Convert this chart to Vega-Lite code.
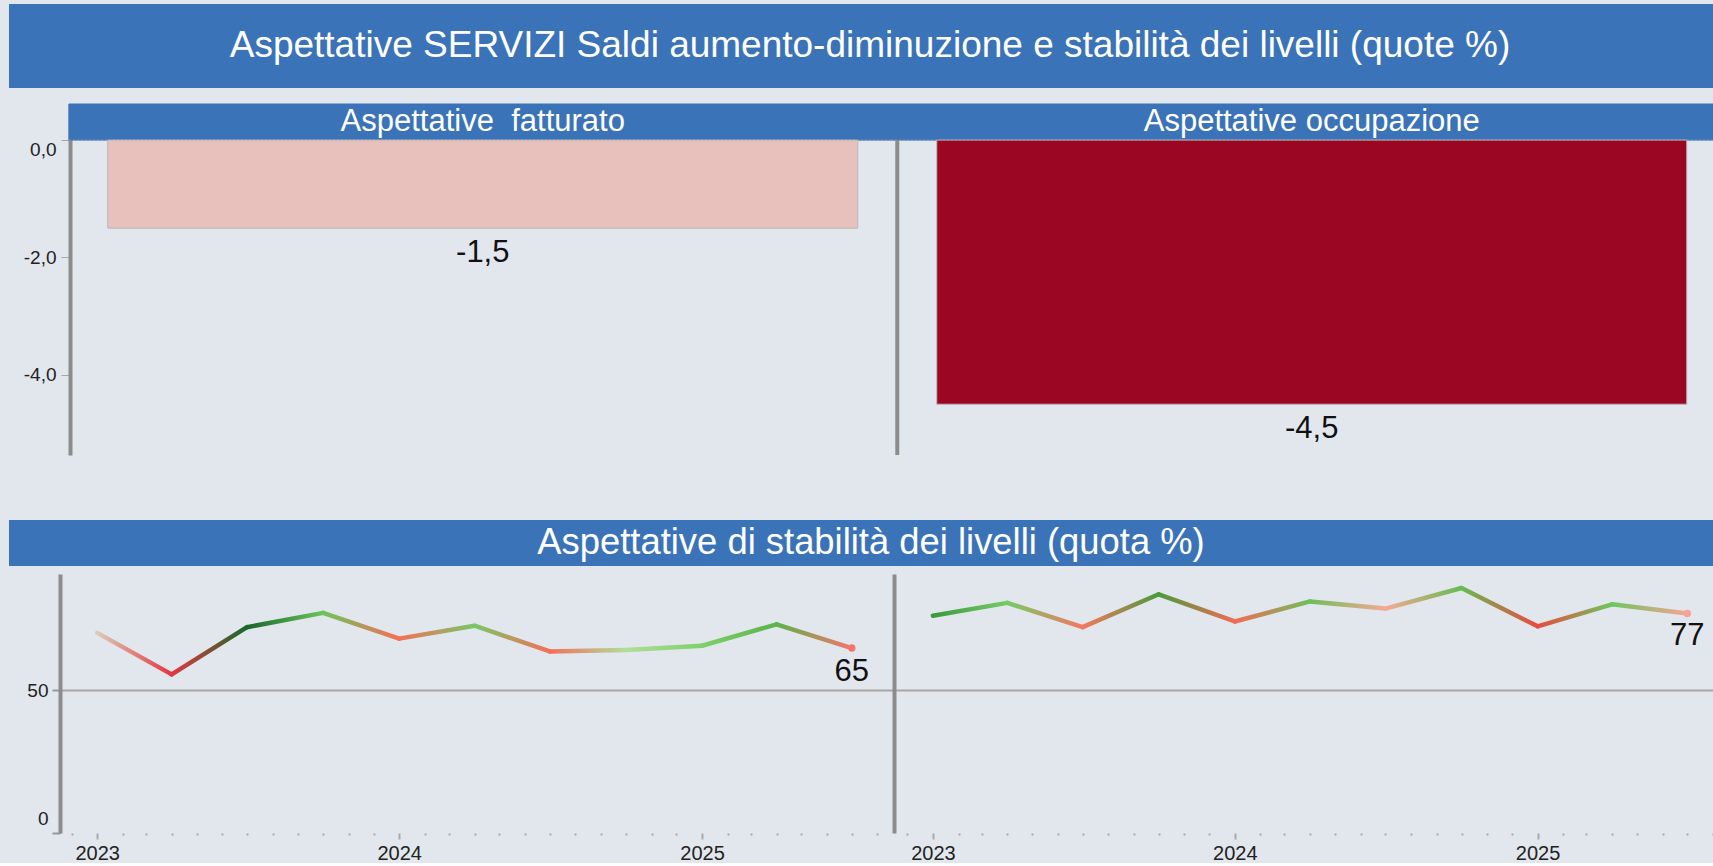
{
  "$schema": "https://vega.github.io/schema/vega-lite/v6.json",
  "background": "#e2e7ee",
  "padding": {"left": 9, "top": 4, "right": 0, "bottom": 0},
  "config": {
    "view": {"stroke": null},
    "font": "Liberation Sans",
    "locale": {"number": {"decimal": ",", "thousands": ".", "grouping": [3], "currency": ["", " €"], "minus": "-"}}
  },
  "datasets": {
    "stab": [
      {"panel": "L", "id": "L0", "date": "2023-01-01", "v": 70},
      {"panel": "L", "id": "L1", "date": "2023-04-01", "v": 55.5},
      {"panel": "L", "id": "L2", "date": "2023-07-01", "v": 72},
      {"panel": "L", "id": "L3", "date": "2023-10-01", "v": 77},
      {"panel": "L", "id": "L4", "date": "2024-01-01", "v": 68},
      {"panel": "L", "id": "L5", "date": "2024-04-01", "v": 72.5},
      {"panel": "L", "id": "L6", "date": "2024-07-01", "v": 63.5},
      {"panel": "L", "id": "L7", "date": "2024-10-01", "v": 64},
      {"panel": "L", "id": "L8", "date": "2025-01-01", "v": 65.5},
      {"panel": "L", "id": "L9", "date": "2025-04-01", "v": 73},
      {"panel": "L", "id": "L10", "date": "2025-07-01", "v": 64.7},
      {"panel": "R", "id": "R0", "date": "2023-01-01", "v": 76},
      {"panel": "R", "id": "R1", "date": "2023-04-01", "v": 80.5},
      {"panel": "R", "id": "R2", "date": "2023-07-01", "v": 72},
      {"panel": "R", "id": "R3", "date": "2023-10-01", "v": 83.5},
      {"panel": "R", "id": "R4", "date": "2024-01-01", "v": 74},
      {"panel": "R", "id": "R5", "date": "2024-04-01", "v": 81},
      {"panel": "R", "id": "R6", "date": "2024-07-01", "v": 78.5},
      {"panel": "R", "id": "R7", "date": "2024-10-01", "v": 85.7},
      {"panel": "R", "id": "R8", "date": "2025-01-01", "v": 72.3},
      {"panel": "R", "id": "R9", "date": "2025-04-01", "v": 80},
      {"panel": "R", "id": "R10", "date": "2025-07-01", "v": 76.8}
    ]
  },
  "spacing": 0,
  "bounds": "flush",
  "vconcat": [
    {
      "width": 1704, "height": 84,
      "view": {"fill": "#3b73b9", "stroke": null},
      "data": {"values": [{"t": "Aspettative SERVIZI Saldi aumento-diminuzione e stabilità dei livelli (quote %)"}]},
      "mark": {"type": "text", "fontSize": 37, "color": "#ffffff", "dx": 9},
      "encoding": {"text": {"field": "t"}}
    },
    {"width": 1704, "height": 16, "data": {"values": []}, "mark": "rect"},
    {
      "width": 1704, "height": 351,
      "data": {"values": [
        {"k": "fatturato", "h": "Aspettative \u00a0fatturato", "v": -1.5},
        {"k": "occupazione", "h": "Aspettative occupazione", "v": -4.5}
      ]},
      "resolve": {"scale": {"x": "independent"}},
      "layer": [
        {
          "mark": {"type": "rect", "color": "#3b73b9", "stroke": "#3b73b9", "strokeWidth": 1},
          "encoding": {
            "x": {"field": "k", "type": "nominal", "axis": null, "scale": {"type": "band", "paddingInner": 0, "paddingOuter": 0.036496, "align": 1}},
            "y": {"datum": 0, "type": "quantitative", "scale": {"domain": [-5.365, 0.615], "nice": false},
              "axis": {"values": [0, -2, -4], "format": ",.1f", "title": null, "grid": false, "offset": -61,
                "domainColor": "#8c8c8c", "domainWidth": 4, "tickColor": "#a8a8a8", "tickSize": 9, "tickWidth": 1,
                "labelFontSize": 19, "labelColor": "#222222", "labelPadding": 5, "labelFlush": false,
                "labelBaseline": {"condition": {"test": "datum.value === 0", "value": "top"}, "value": "middle"}}},
            "y2": {"datum": 0.615}
          }
        },
        {
          "mark": {"type": "rule", "strokeDash": [2, 2], "color": "#9aa0a8", "strokeWidth": 1},
          "encoding": {
            "x": {"field": "k", "type": "nominal", "axis": null, "bandPosition": 0, "scale": {"type": "band", "paddingInner": 0, "paddingOuter": 0.036496, "align": 1}},
            "x2": {"field": "k", "bandPosition": 1},
            "y": {"datum": 0, "type": "quantitative"}
          }
        },
        {
          "mark": {"type": "bar", "stroke": "#b8b8b8", "strokeWidth": 1},
          "encoding": {
            "x": {"field": "k", "type": "nominal", "axis": null, "scale": {"type": "band", "paddingInner": 0.0953, "paddingOuter": 0.0754, "align": 0.79}},
            "y": {"field": "v", "type": "quantitative"},
            "fill": {"field": "k", "type": "nominal", "legend": null, "scale": {"domain": ["fatturato", "occupazione"], "range": ["#e8c0bc", "#9b0623"]}}
          }
        },
        {
          "transform": [{"filter": "datum.k === 'fatturato'"}],
          "mark": {"type": "rule", "color": "#8c8c8c", "strokeWidth": 4},
          "encoding": {
            "x": {"field": "k", "type": "nominal", "axis": null, "bandPosition": 1.0527, "scale": {"type": "band", "domain": ["fatturato", "occupazione"], "paddingInner": 0.0953, "paddingOuter": 0.0754, "align": 0.79}},
            "y": {"datum": 0, "type": "quantitative"},
            "y2": {"datum": -5.365}
          }
        },
        {
          "mark": {"type": "text", "fontSize": 31, "dy": 24.5, "color": "#111111"},
          "encoding": {
            "x": {"field": "k", "type": "nominal", "axis": null, "scale": {"type": "band", "paddingInner": 0.0953, "paddingOuter": 0.0754, "align": 0.79}},
            "y": {"field": "v", "type": "quantitative"},
            "text": {"field": "v", "type": "quantitative", "format": ",.1f"}
          }
        },
        {
          "mark": {"type": "text", "fontSize": 31, "color": "#ffffff"},
          "encoding": {
            "x": {"field": "k", "type": "nominal", "axis": null, "scale": {"type": "band", "paddingInner": 0.0953, "paddingOuter": 0.0754, "align": 0.79}},
            "y": {"datum": 0.3077, "type": "quantitative"},
            "text": {"field": "h"}
          }
        }
      ]
    },
    {"width": 1704, "height": 65, "data": {"values": []}, "mark": "rect"},
    {
      "width": 1704, "height": 46,
      "view": {"fill": "#3b73b9", "stroke": null},
      "data": {"values": [{"t": "Aspettative di stabilità dei livelli (quota %)"}]},
      "mark": {"type": "text", "fontSize": 36.4, "color": "#ffffff", "dx": 10},
      "encoding": {"text": {"field": "t"}}
    },
    {"width": 1704, "height": 8, "data": {"values": []}, "mark": "rect"},
    {
      "spacing": 0, "bounds": "flush",
      "hconcat": [
        {"width": 51, "height": 1, "data": {"values": []}, "mark": "rect"},
        {
          "width": 834, "height": 259,
          "data": {"name": "stab"},
          "transform": [
            {"filter": "datum.panel === 'L'"},
            {"window": [{"op": "lag", "field": "v", "as": "pv"}, {"op": "lag", "field": "date", "as": "pd"}], "sort": [{"field": "date"}]}
          ],
          "layer": [
            {
              "transform": [{"filter": "datum.pv != null"}],
              "mark": {"type": "rule", "strokeWidth": 4.5, "strokeCap": "round"},
              "encoding": {
                "x": {"field": "pd", "type": "temporal",
                  "scale": {"type": "utc", "domain": [{"year": 2022, "month": 11, "date": 17, "utc": true}, {"year": 2025, "month": 8, "date": 21, "utc": true}]},
                  "axis": {"title": null, "domain": false, "grid": false, "tickCount": {"interval": "month", "step": 1},
                    "labelExpr": "utcmonth(datum.value) === 0 ? utcFormat(datum.value, '%Y') : ''",
                    "tickColor": "#aaaaaa", "tickSize": 6, "tickWidth": 2,
                    "tickDash": {"condition": {"test": "utcmonth(datum.value) === 0", "value": [6, 0]}, "value": [2, 20]},
                    "labelFontSize": 20, "labelColor": "#222222", "labelFlush": false, "labelOverlap": false, "labelPadding": 4}},
                "x2": {"field": "date"},
                "y": {"field": "pv", "type": "quantitative", "scale": {"domain": [0, 90.6], "nice": false},
                  "axis": {"values": [0, 50], "title": null, "grid": true, "gridColor": "#a6a6a6", "gridWidth": 2,
                    "gridOpacity": {"condition": {"test": "datum.value === 0", "value": 0}, "value": 1},
                    "domainColor": "#8c8c8c", "domainWidth": 4, "tickColor": "#999999", "tickSize": 8, "tickWidth": 2,
                    "labelFontSize": 19, "labelColor": "#222222", "labelPadding": 4, "labelFlush": true, "labelFlushOffset": -5}},
                "y2": {"field": "v"},
                "stroke": {
                  "condition": [
                    {"test": "datum.id === 'L1'", "value": {"gradient": "linear", "x1": 0, "y1": 0, "x2": 1, "y2": 0, "stops": [{"offset": 0, "color": "#dccab8"}, {"offset": 1, "color": "#e6363f"}]}},
                    {"test": "datum.id === 'L2'", "value": {"gradient": "linear", "x1": 0, "y1": 0, "x2": 1, "y2": 0, "stops": [{"offset": 0, "color": "#e6363f"}, {"offset": 1, "color": "#17692a"}]}},
                    {"test": "datum.id === 'L3'", "value": {"gradient": "linear", "x1": 0, "y1": 0, "x2": 1, "y2": 0, "stops": [{"offset": 0, "color": "#17692a"}, {"offset": 1, "color": "#6cc45a"}]}},
                    {"test": "datum.id === 'L4'", "value": {"gradient": "linear", "x1": 0, "y1": 0, "x2": 1, "y2": 0, "stops": [{"offset": 0, "color": "#6cc45a"}, {"offset": 1, "color": "#f66f55"}]}},
                    {"test": "datum.id === 'L5'", "value": {"gradient": "linear", "x1": 0, "y1": 0, "x2": 1, "y2": 0, "stops": [{"offset": 0, "color": "#f66f55"}, {"offset": 1, "color": "#78c865"}]}},
                    {"test": "datum.id === 'L6'", "value": {"gradient": "linear", "x1": 0, "y1": 0, "x2": 1, "y2": 0, "stops": [{"offset": 0, "color": "#78c865"}, {"offset": 1, "color": "#f56e58"}]}},
                    {"test": "datum.id === 'L7'", "value": {"gradient": "linear", "x1": 0, "y1": 0, "x2": 1, "y2": 0, "stops": [{"offset": 0, "color": "#f56e58"}, {"offset": 1, "color": "#b0de9a"}]}},
                    {"test": "datum.id === 'L8'", "value": {"gradient": "linear", "x1": 0, "y1": 0, "x2": 1, "y2": 0, "stops": [{"offset": 0, "color": "#b0de9a"}, {"offset": 1, "color": "#7fd06a"}]}},
                    {"test": "datum.id === 'L9'", "value": {"gradient": "linear", "x1": 0, "y1": 0, "x2": 1, "y2": 0, "stops": [{"offset": 0, "color": "#7fd06a"}, {"offset": 1, "color": "#5cb34a"}]}},
                    {"test": "datum.id === 'L10'", "value": {"gradient": "linear", "x1": 0, "y1": 0, "x2": 1, "y2": 0, "stops": [{"offset": 0, "color": "#5cb34a"}, {"offset": 1, "color": "#f5756a"}]}}
                  ],
                  "value": "#888888"
                }
              }
            },
            {
              "transform": [{"filter": "datum.id === 'L10'"}],
              "mark": {"type": "point", "filled": true, "size": 55, "opacity": 1, "color": "#f5756a"},
              "encoding": {
                "x": {"field": "date", "type": "temporal"},
                "y": {"field": "v", "type": "quantitative"}
              }
            },
            {
              "transform": [{"filter": "datum.id === 'L10'"}],
              "mark": {"type": "text", "fontSize": 31, "dy": 24, "color": "#111111"},
              "encoding": {
                "x": {"field": "date", "type": "temporal"},
                "y": {"field": "v", "type": "quantitative"},
                "text": {"field": "v", "type": "quantitative", "format": ".0f"}
              }
            }
          ]
        },
        {
          "width": 819, "height": 259,
          "data": {"name": "stab"},
          "transform": [
            {"filter": "datum.panel === 'R'"},
            {"window": [{"op": "lag", "field": "v", "as": "pv"}, {"op": "lag", "field": "date", "as": "pd"}], "sort": [{"field": "date"}]}
          ],
          "layer": [
            {
              "transform": [{"filter": "datum.pv != null"}],
              "mark": {"type": "rule", "strokeWidth": 4.5, "strokeCap": "round"},
              "encoding": {
                "x": {"field": "pd", "type": "temporal",
                  "scale": {"type": "utc", "domain": [{"year": 2022, "month": 11, "date": 15, "utc": true}, {"year": 2025, "month": 8, "date": 1, "utc": true}]},
                  "axis": {"title": null, "domain": false, "grid": false, "tickCount": {"interval": "month", "step": 1},
                    "labelExpr": "utcmonth(datum.value) === 0 ? utcFormat(datum.value, '%Y') : ''",
                    "tickColor": "#aaaaaa", "tickSize": 6, "tickWidth": 2,
                    "tickDash": {"condition": {"test": "utcmonth(datum.value) === 0", "value": [6, 0]}, "value": [2, 20]},
                    "labelFontSize": 20, "labelColor": "#222222", "labelFlush": false, "labelOverlap": false, "labelPadding": 4}},
                "x2": {"field": "date"},
                "y": {"field": "pv", "type": "quantitative", "scale": {"domain": [0, 90.6], "nice": false},
                  "axis": {"values": [0, 50], "title": null, "grid": true, "gridColor": "#a6a6a6", "gridWidth": 2,
                    "gridOpacity": {"condition": {"test": "datum.value === 0", "value": 0}, "value": 1},
                    "domainColor": "#8c8c8c", "domainWidth": 4, "ticks": false, "labels": false}},
                "y2": {"field": "v"},
                "stroke": {
                  "condition": [
                    {"test": "datum.id === 'R1'", "value": {"gradient": "linear", "x1": 0, "y1": 0, "x2": 1, "y2": 0, "stops": [{"offset": 0, "color": "#3c9a3c"}, {"offset": 1, "color": "#74cc66"}]}},
                    {"test": "datum.id === 'R2'", "value": {"gradient": "linear", "x1": 0, "y1": 0, "x2": 1, "y2": 0, "stops": [{"offset": 0, "color": "#74cc66"}, {"offset": 1, "color": "#f5775f"}]}},
                    {"test": "datum.id === 'R3'", "value": {"gradient": "linear", "x1": 0, "y1": 0, "x2": 1, "y2": 0, "stops": [{"offset": 0, "color": "#f5775f"}, {"offset": 1, "color": "#4b9b3b"}]}},
                    {"test": "datum.id === 'R4'", "value": {"gradient": "linear", "x1": 0, "y1": 0, "x2": 1, "y2": 0, "stops": [{"offset": 0, "color": "#4b9b3b"}, {"offset": 1, "color": "#f36b55"}]}},
                    {"test": "datum.id === 'R5'", "value": {"gradient": "linear", "x1": 0, "y1": 0, "x2": 1, "y2": 0, "stops": [{"offset": 0, "color": "#f36b55"}, {"offset": 1, "color": "#6cc05a"}]}},
                    {"test": "datum.id === 'R6'", "value": {"gradient": "linear", "x1": 0, "y1": 0, "x2": 1, "y2": 0, "stops": [{"offset": 0, "color": "#6cc05a"}, {"offset": 1, "color": "#f7a991"}]}},
                    {"test": "datum.id === 'R7'", "value": {"gradient": "linear", "x1": 0, "y1": 0, "x2": 1, "y2": 0, "stops": [{"offset": 0, "color": "#f7a991"}, {"offset": 1, "color": "#66bb52"}]}},
                    {"test": "datum.id === 'R8'", "value": {"gradient": "linear", "x1": 0, "y1": 0, "x2": 1, "y2": 0, "stops": [{"offset": 0, "color": "#66bb52"}, {"offset": 1, "color": "#ec4a40"}]}},
                    {"test": "datum.id === 'R9'", "value": {"gradient": "linear", "x1": 0, "y1": 0, "x2": 1, "y2": 0, "stops": [{"offset": 0, "color": "#ec4a40"}, {"offset": 1, "color": "#6cc75d"}]}},
                    {"test": "datum.id === 'R10'", "value": {"gradient": "linear", "x1": 0, "y1": 0, "x2": 1, "y2": 0, "stops": [{"offset": 0, "color": "#6cc75d"}, {"offset": 1, "color": "#f8a393"}]}}
                  ],
                  "value": "#888888"
                }
              }
            },
            {
              "transform": [{"filter": "datum.id === 'R10'"}],
              "mark": {"type": "point", "filled": true, "size": 55, "opacity": 1, "color": "#f8a393"},
              "encoding": {
                "x": {"field": "date", "type": "temporal"},
                "y": {"field": "v", "type": "quantitative"}
              }
            },
            {
              "transform": [{"filter": "datum.id === 'R10'"}],
              "mark": {"type": "text", "fontSize": 31, "dy": 23, "color": "#111111"},
              "encoding": {
                "x": {"field": "date", "type": "temporal"},
                "y": {"field": "v", "type": "quantitative"},
                "text": {"field": "v", "type": "quantitative", "format": ".0f"}
              }
            }
          ]
        }
      ]
    }
  ]
}
